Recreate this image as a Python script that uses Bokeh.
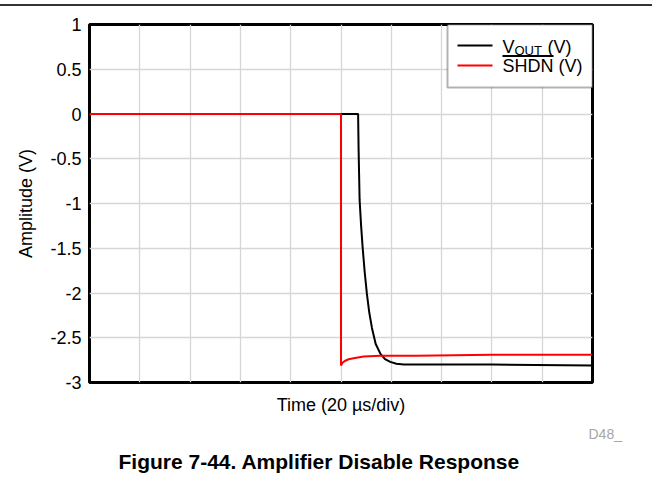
from bokeh.plotting import figure
from bokeh.models import Range1d, FixedTicker, BoxAnnotation, Label, Arrow, Title, Div
from bokeh.layouts import column
from bokeh.embed import file_html
from bokeh.resources import INLINE

# ---- data (time in microseconds, 20 us/div) ----
x_ticks = [0, 20, 40, 60, 80, 100, 120, 140, 160, 180, 200]
y_ticks = [1, 0.5, 0, -0.5, -1, -1.5, -2, -2.5, -3]
y_tick_labels = ["1", "0.5", "0", "-0.5", "-1", "-1.5", "-2", "-2.5", "-3"]

vout_t = [0, 106.8, 107.0, 107.4, 108.0, 108.6, 109.4, 110.3, 111.2, 112.3,
          113.8, 115.7, 117.5, 119.6, 122.0, 125.0, 140.0, 160.0, 200.0]
vout_v = [0, 0, -0.40, -0.96, -1.25, -1.49, -1.76, -2.01, -2.21, -2.39,
          -2.57, -2.68, -2.74, -2.77, -2.79, -2.80, -2.80, -2.80, -2.81]

shdn_t = [0, 100.0, 100.0, 100.6, 101.5, 103.0, 105.0, 109.0, 115.7, 130.0, 160.0, 200.0]
shdn_v = [0, 0, -2.81, -2.78, -2.76, -2.74, -2.73, -2.71, -2.70, -2.70, -2.69, -2.69]

FONT = "Liberation Sans"

# page geometry (pixels) used to place annotations
W, H = 652, 479
RULE_TOP, RULE_H = 4, 2          # thin rule across the top of the page
FIG_TOP = RULE_TOP + RULE_H      # figure starts below the rule
FIG_H = H - FIG_TOP - 1
FL, FR, FT, FB = 89.0, 592.0, 24.0, 382.0
X0, X1, Y0, Y1 = 0.0, 200.0, -3.0, 1.0


def fx(px):
    return X0 + (px - FL) / (FR - FL) * (X1 - X0)


def fy(py):
    return Y1 - (py - FT) / (FB - FT) * (Y1 - Y0)


p = figure(
    width=W, height=FIG_H,
    min_border_left=int(FL), min_border_right=int(W - FR),
    min_border_top=int(FT - FIG_TOP), min_border_bottom=int(FIG_TOP + FIG_H - FB),
    x_range=Range1d(X0, X1), y_range=Range1d(Y0, Y1),
    output_backend="svg", toolbar_location=None, tools="",
)
p.background_fill_color = "white"
p.border_fill_color = "white"
p.outline_line_color = "black"
p.outline_line_width = 3

# grid
p.xgrid.ticker = FixedTicker(ticks=x_ticks)
p.ygrid.ticker = FixedTicker(ticks=y_ticks)
for g in (p.xgrid, p.ygrid):
    g.grid_line_color = "#d6d6d6"
    g.grid_line_width = 1.3

# axes (x axis has no tick labels, only its title)
p.xaxis.ticker = FixedTicker(ticks=[])
p.yaxis.ticker = FixedTicker(ticks=y_ticks)
p.yaxis.major_label_overrides = {t: s for t, s in zip(y_ticks, y_tick_labels)}
for ax in (p.xaxis, p.yaxis):
    ax.axis_line_color = None
    ax.major_tick_line_color = None
    ax.minor_tick_line_color = None
    ax.major_label_text_font = FONT
    ax.major_label_text_font_size = "18px"
    ax.major_label_text_color = "black"
    ax.axis_label_text_font = FONT
    ax.axis_label_text_font_size = "18px"
    ax.axis_label_text_font_style = "normal"
    ax.axis_label_text_color = "black"
p.xaxis.major_label_standoff = 0
p.xaxis.axis_label = "Time (20 µs/div)"
p.xaxis.axis_label_standoff = 12
p.yaxis.axis_label = "Amplitude (V)"
p.yaxis.major_label_standoff = 2
p.yaxis.axis_label_standoff = 11

# data
p.line(vout_t, vout_v, line_color="black", line_width=2)
p.line(shdn_t, shdn_v, line_color="#ff0000", line_width=2)

# legend (custom, to allow subscript and overline)
p.add_layout(BoxAnnotation(left=fx(447), right=X1, bottom=fy(87), top=Y1,
                           fill_color="white", fill_alpha=1.0,
                           line_color="black", line_width=2))
p.add_layout(Arrow(x_start=fx(457), y_start=fy(45), x_end=fx(492), y_end=fy(45),
                   start=None, end=None, line_color="black", line_width=2))
p.add_layout(Arrow(x_start=fx(457), y_start=fy(65), x_end=fx(492), y_end=fy(65),
                   start=None, end=None, line_color="#ff0000", line_width=2))
p.add_layout(Label(x=fx(502), y=fy(46), text="V", text_font=FONT,
                   text_font_size="18px", text_color="black", text_baseline="middle"))
p.add_layout(Label(x=fx(514), y=fy(49.5), text="OUT", text_font=FONT,
                   text_font_size="13px", text_color="black", text_baseline="middle"))
p.add_layout(Label(x=fx(547), y=fy(46), text="(V)", text_font=FONT,
                   text_font_size="18px", text_color="black", text_baseline="middle"))
p.add_layout(Label(x=fx(502), y=fy(65), text="SHDN (V)", text_font=FONT,
                   text_font_size="18px", text_color="black", text_baseline="middle"))
p.add_layout(Arrow(x_start=fx(502), y_start=fy(55.5), x_end=fx(553), y_end=fy(55.5),
                   start=None, end=None, line_color="black", line_width=2))

# figure id and caption below the chart
p.add_layout(Title(text="D48_", align="left", offset=499, standoff=12,
                   text_font=FONT, text_font_size="14px", text_font_style="normal",
                   text_color="#a6a6a6"), "below")
p.add_layout(Title(text="Figure 7-44. Amplifier Disable Response", align="left",
                   offset=29, standoff=0, text_font=FONT, text_font_size="21px",
                   text_font_style="bold", text_color="black"), "below")

rule = Div(text="", width=W, height=RULE_H, margin=(RULE_TOP, 0, 0, 0),
           styles={"background-color": "#333333"})

layout = column(rule, p, spacing=0)

open("out.html", "w").write(file_html(layout, INLINE))
